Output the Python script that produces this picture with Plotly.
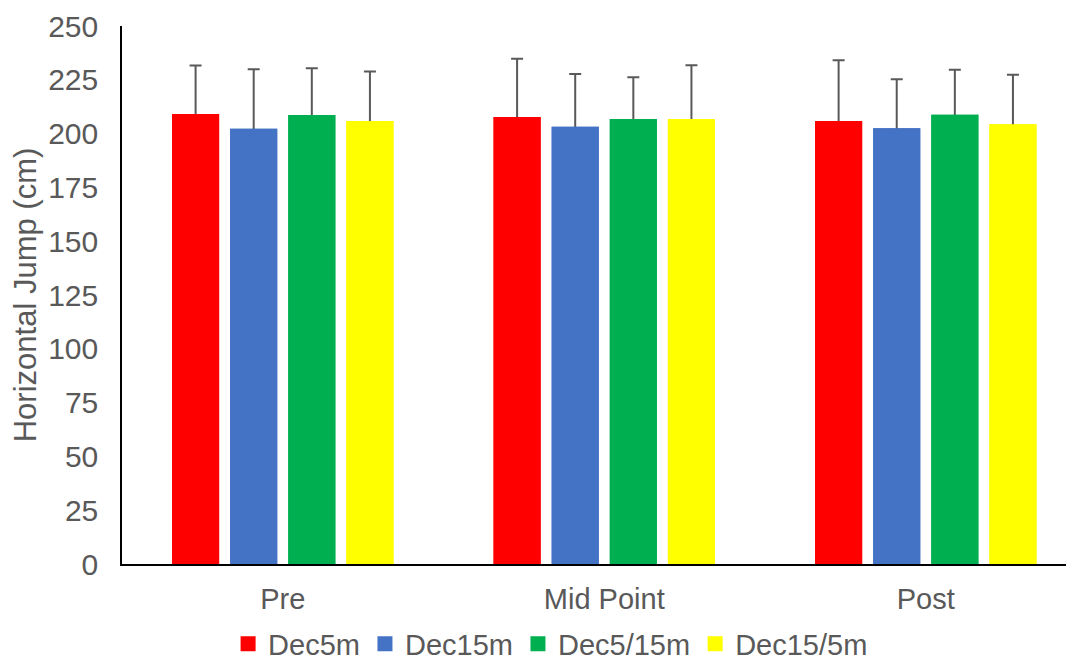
import plotly.graph_objects as go

categories = ["Pre", "Mid Point", "Post"]
series_names = ["Dec5m", "Dec15m", "Dec5/15m", "Dec15/5m"]
colors = ["#FF0000", "#4472C4", "#00B050", "#FFFF00"]

dec5m = [209.1, 207.7, 205.9]
dec15m = [202.3, 203.2, 202.5]
dec5_15m = [208.7, 206.8, 208.8]
dec15_5m = [205.9, 206.8, 204.4]

dec5m_sd = [22.5, 27.1, 28.2]
dec15m_sd = [27.6, 24.5, 22.8]
dec5_15m_sd = [21.7, 19.4, 20.9]
dec15_5m_sd = [22.9, 25.0, 22.9]

values = [dec5m, dec15m, dec5_15m, dec15_5m]
errors = [dec5m_sd, dec15m_sd, dec5_15m_sd, dec15_5m_sd]

y_ticks = [0, 25, 50, 75, 100, 125, 150, 175, 200, 225, 250]

font_family = "Liberation Sans, Arial, sans-serif"
gray = "#595959"

fig = go.Figure()
# bars with symmetric error bars (lower half hidden by the overlay bars)
for i, (name, col, v, e) in enumerate(zip(series_names, colors, values, errors)):
    fig.add_trace(go.Bar(
        name=name, x=categories, y=v, offsetgroup=str(i), showlegend=False,
        marker=dict(color=col, line=dict(width=0)),
        error_y=dict(type="data", array=e, color=gray, thickness=2, width=6),
        hoverinfo="skip",
    ))
# identical bars on top (cover the lower half of the error bars)
for i, (name, col, v) in enumerate(zip(series_names, colors, values)):
    fig.add_trace(go.Bar(
        name=name, x=categories, y=v, offsetgroup=str(i), showlegend=False,
        marker=dict(color=col, line=dict(width=0)),
    ))
# legend entries with square keys
for name, col in zip(series_names, colors):
    fig.add_trace(go.Scatter(
        name=name, x=[None], y=[None], mode="markers", showlegend=True,
        marker=dict(symbol="square", size=15, color=col, line=dict(width=0)),
    ))

fig.update_layout(
    width=1066, height=653,
    paper_bgcolor="white", plot_bgcolor="white",
    margin=dict(l=114, r=0, t=18, b=96.5),
    barmode="group", bargap=0.277, bargroupgap=0.19,
    font=dict(family=font_family, color=gray, size=29),
    showlegend=True,
    legend=dict(orientation="h", xref="container", yref="container",
                x=0.509, xanchor="center", y=0.026, yanchor="middle",
                font=dict(size=29, color=gray), itemwidth=30,
                traceorder="normal"),
)
fig.update_xaxes(
    type="category", range=[-0.5, 2.461], showline=True, linecolor="black", linewidth=2,
    ticks="", showgrid=False, tickfont=dict(size=29, color=gray), ticklabelstandoff=8,
    automargin=False,
)
fig.update_yaxes(
    range=[0, 250], tickvals=y_ticks, showline=True, linecolor="black", linewidth=1.5,
    ticks="", showgrid=False, zeroline=False, tickfont=dict(size=30, color=gray),
    ticklabelstandoff=16, automargin=False,
    title=dict(text="Horizontal Jump (cm)", font=dict(size=31, color=gray), standoff=6),
)

fig.write_html("out.html")
